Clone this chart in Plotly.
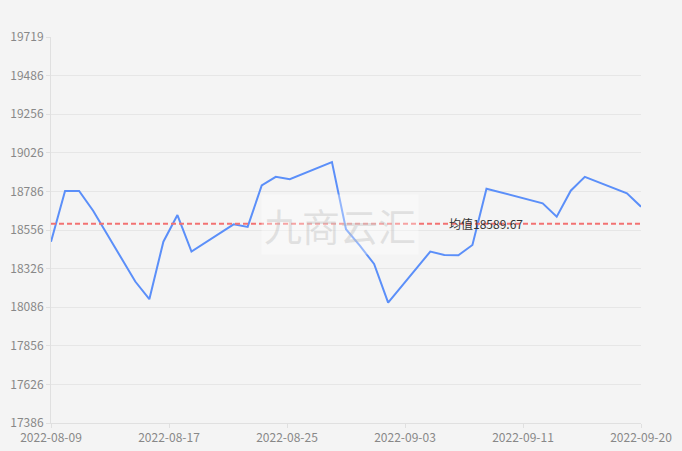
import plotly.graph_objects as go
import pandas as pd
import numpy as np

dates = ["2022-08-09", "2022-08-10", "2022-08-11", "2022-08-12", "2022-08-15",
         "2022-08-16", "2022-08-17", "2022-08-18", "2022-08-19", "2022-08-22",
         "2022-08-23", "2022-08-24", "2022-08-25", "2022-08-26", "2022-08-29",
         "2022-08-30", "2022-08-31", "2022-09-01", "2022-09-02", "2022-09-05",
         "2022-09-06", "2022-09-07", "2022-09-08", "2022-09-09", "2022-09-13",
         "2022-09-14", "2022-09-15", "2022-09-16", "2022-09-19", "2022-09-20"]
values = [18482, 18788, 18788, 18669, 18241,
          18134, 18482, 18643, 18422, 18587,
          18571, 18822, 18874, 18860, 18963,
          18557, 18456, 18347, 18114, 18422,
          18402, 18400, 18462, 18802, 18714,
          18633, 18790, 18874, 18774, 18693]

mean_value = 18589.67
mean_label = "均值18589.67"
y_min, y_max = 17386, 19719
y_tick_labels = ["17386", "17626", "17856", "18086", "18326", "18556",
                 "18786", "19026", "19256", "19486", "19719"]
watermark = "九商云汇"

font_family = "Noto Sans CJK SC, Noto Sans, sans-serif"
x_start, x_end = pd.Timestamp(dates[0]), pd.Timestamp(dates[-1])
x_ticks = pd.date_range(x_start, x_end, periods=6)
x_tick_text = [t.strftime("%Y-%m-%d") for t in x_ticks]
y_ticks = np.linspace(y_min, y_max, len(y_tick_labels))

fig = go.Figure()
fig.add_trace(go.Scatter(
    x=pd.to_datetime(dates), y=values, mode="lines",
    line=dict(color="#5b8ff9", width=2), showlegend=False,
))
fig.add_trace(go.Scatter(
    x=[x_start, x_end], y=[mean_value, mean_value], mode="lines",
    line=dict(color="#f27272", width=2, dash="5px,3px"), showlegend=False,
    hoverinfo="skip",
))

fig.update_layout(
    width=682, height=451,
    margin=dict(l=51, r=41, t=37, b=28, autoexpand=False),
    paper_bgcolor="#f4f4f4", plot_bgcolor="#f4f4f4",
    font=dict(family=font_family, size=12, color="#888888"),
    xaxis=dict(
        type="date", range=[x_start, x_end], automargin=False,
        tickvals=x_ticks, ticktext=x_tick_text,
        showgrid=False, showline=True, linecolor="#e0e0e0", linewidth=1,
        ticks="outside", ticklen=4, tickcolor="#e0e0e0",
        tickfont=dict(size=12, color="#888888"), zeroline=False,
    ),
    yaxis=dict(
        range=[y_min, y_max], automargin=False,
        tickvals=y_ticks, ticktext=y_tick_labels,
        showgrid=False, showline=True, linecolor="#e0e0e0", linewidth=1,
        ticks="outside", ticklen=4, tickcolor="#e0e0e0",
        tickfont=dict(size=12, color="#888888"), zeroline=False,
    ),
    yaxis2=dict(
        range=[y_min, y_max], overlaying="y", side="left", automargin=False,
        tickvals=y_ticks[1:-1], showticklabels=False,
        showgrid=True, gridcolor="#e6e6e6", gridwidth=1,
        showline=False, zeroline=False, ticks="",
    ),
)
# invisible trace that activates the gridline axis
fig.add_trace(go.Scatter(x=[x_start], y=[y_min], yaxis="y2", mode="markers",
                         marker=dict(opacity=0), showlegend=False, hoverinfo="skip"))

fig.add_annotation(
    x=pd.Timestamp("2022-09-06 05:00"), y=mean_value, xref="x", yref="y",
    text=mean_label, showarrow=False, xanchor="left", yanchor="middle",
    font=dict(size=12, color="#333333", family=font_family),
)
fig.add_annotation(
    x=0.49, y=0.515, xref="paper", yref="paper", text=watermark, showarrow=False,
    font=dict(size=38, color="rgba(180,180,180,0.35)", family=font_family),
    bgcolor="rgba(255,255,255,0.35)", borderpad=2,
)

fig.write_html("out.html", config={"displayModeBar": False},
               post_script="document.body.style.margin='0';document.body.style.overflow='hidden';")
